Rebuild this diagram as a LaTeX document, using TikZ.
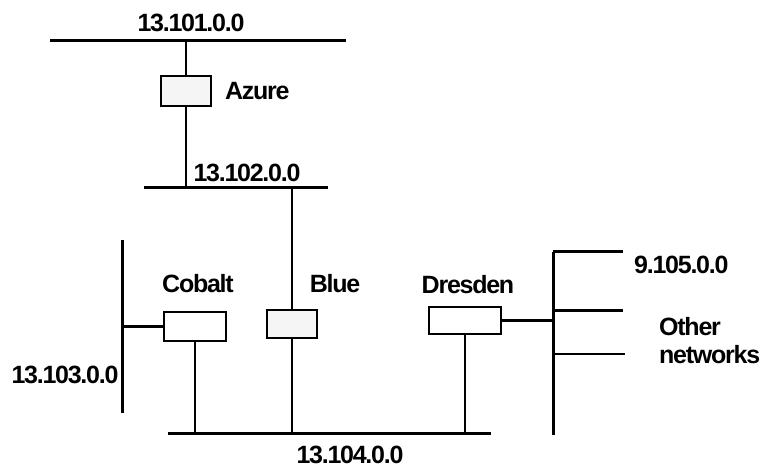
\documentclass[tikz,border=0pt]{standalone}
\usepackage{fontspec}
\setmainfont{Liberation Sans}[LetterSpace=-5]
\usepackage{tikz}
\usetikzlibrary{positioning}

\begin{document}
\begin{tikzpicture}[x=1pt, y=-1pt,
    bus/.style={line width=3pt},
    link/.style={line width=2.5pt},
    router/.style={draw, line width=1.8pt, inner sep=0pt},
    lbl/.style={font=\fontsize{25}{28}\selectfont\bfseries, inner sep=0pt}]
    \useasboundingbox (0,0) rectangle (763,470);
    % networks
    \coordinate (n101w) at (50,40.5);   \coordinate (n101e) at (346,40.5);
    \coordinate (n102w) at (144,187.5); \coordinate (n102e) at (328,187.5);
    \coordinate (n103n) at (122,240);   \coordinate (n103s) at (122,413);
    \coordinate (n104w) at (168,433);   \coordinate (n104e) at (491,433);
    \coordinate (othn) at (553,252);    \coordinate (oths) at (553,435);
    \draw[bus] (n101w) -- (n101e);
    \draw[bus] (n102w) -- (n102e);
    \draw[bus] (n103n) -- (n103s);
    \draw[bus] (n104w) -- (n104e);
    \draw[bus] (othn) -- (oths);
    \coordinate (o1) at (623,252);
    \coordinate (o2) at (623,311);
    \coordinate (o3) at (625,354);
    \draw[bus] (othn) -- (o1);
    \draw[bus] (o2 -| othn) -- (o2);
    \draw[link] (o3 -| othn) -- (o3);
    % routers
    \node[router, fill=gray!8, minimum width=50pt, minimum height=30pt] (azure) at (186,91) {};
    \node[router, fill=white, minimum width=62pt, minimum height=29pt] (cobalt) at (195,326.5) {};
    \node[router, fill=gray!8, minimum width=50pt, minimum height=28pt] (blue) at (292,324) {};
    \node[router, fill=white, minimum width=72pt, minimum height=27pt] (dresden) at (465,320.5) {};
    \draw[link] (azure.north) -- (azure.north |- n101w);
    \draw[link] (azure.south) -- (azure.south |- n102w);
    \draw[link] (blue.north) -- (blue.north |- n102w);
    \draw[link] (blue.south) -- (blue.south |- n104w);
    \draw[link] (cobalt.west) -- (cobalt.west -| n103n);
    \draw[link] (cobalt.south) -- (cobalt.south |- n104w);
    \draw[link] (dresden.east) -- (dresden.east -| othn);
    \draw[link] (dresden.south) -- (dresden.south |- n104w);
    % labels
    \node[lbl] (l101) at (191,23) {13.101.0.0};
    \node[lbl, right=13pt of azure] (lazure) {Azure};
    \node[lbl] (l102) at (247,173) {13.102.0.0};
    \node[lbl] (lcobalt) at (198,284) {Cobalt};
    \node[lbl] (lblue) at (335,284) {Blue};
    \node[lbl] (ldresden) at (468,285) {Dresden};
    \node[lbl] (l103) at (65,375) {13.103.0.0};
    \node[lbl] (l104) at (350,455) {13.104.0.0};
    \node[lbl, anchor=west] (l105) at (634,265) {9.105.0.0};
    \node[lbl, anchor=west, align=left] (lother) at (659,341) {Other\\networks};
\end{tikzpicture}
\end{document}
